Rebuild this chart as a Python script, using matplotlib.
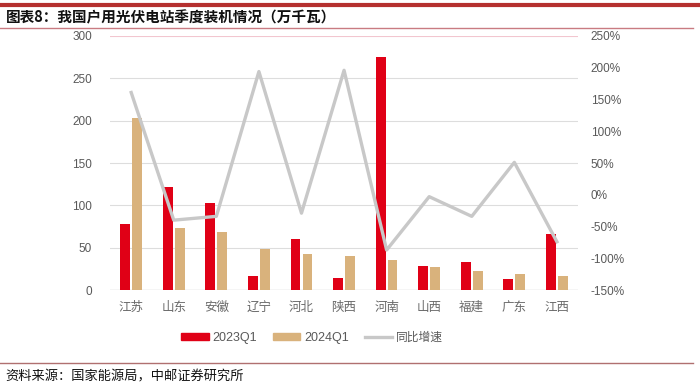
import matplotlib.pyplot as plt
import numpy as np
from matplotlib.lines import Line2D
from matplotlib.patches import Patch

plt.rcParams["font.family"] = ["Noto Sans CJK SC", "DejaVu Sans"]

provinces = ["江苏", "山东", "安徽", "辽宁", "河北", "陕西", "河南", "山西", "福建", "广东", "江西"]
q1_2023 = [78, 122, 103, 16, 60, 14, 275, 28, 33, 12.5, 66]
q1_2024 = [203, 73, 68.5, 48, 42, 40, 35, 27, 22, 19, 17]
yoy_pct = [161, -40, -34, 194, -29, 196, -87, -3, -34, 51, -74]

RED = "#E00016"
TAN = "#D9B27C"
GRAY = "#C8C8C8"
TICK = "#595959"

fig = plt.figure(figsize=(7, 3.87), dpi=100)
ax = fig.add_axes([0.157, 0.2506, 0.669, 0.6564])
ax2 = ax.twinx()

x = np.arange(len(provinces))
w = 0.23
ax.bar(x - 0.14, q1_2023, width=w, color=RED, zorder=3)
ax.bar(x + 0.14, q1_2024, width=w, color=TAN, zorder=3)
ax2.plot(x, yoy_pct, color=GRAY, linewidth=2.4, zorder=4)

ax.set_xlim(-0.5, len(provinces) - 0.5)
ax.set_ylim(0, 300)
ax.set_yticks(range(0, 301, 50))
ax2.set_ylim(-150, 250)
ax2.set_yticks(range(-150, 251, 50))
ax2.set_yticklabels([f"{v}%" for v in range(-150, 251, 50)])

for v in range(50, 300, 50):
    ax.axhline(v, color="#DDDDDD", linewidth=0.8, zorder=1)
ax.axhline(300, color="#F2C6CF", linewidth=0.8, zorder=1)
ax.axhline(0, color="#D0D0D0", linewidth=1.0, zorder=2)

for a in (ax, ax2):
    for s in a.spines.values():
        s.set_visible(False)
ax.set_xticks(x)
ax.set_xticklabels(provinces, fontsize=9, color="#6A6A6A")
ax.tick_params(axis="x", length=0, pad=8)
ax.tick_params(axis="y", length=0, pad=13, labelsize=8.5, labelcolor=TICK)
ax2.tick_params(axis="y", length=0, pad=9, labelsize=8.5, labelcolor=TICK)
for lab in ax.get_yticklabels() + ax2.get_yticklabels():
    lab.set_family(["Liberation Sans", "DejaVu Sans"])
ax2.set_zorder(ax.get_zorder() + 1)
ax2.patch.set_visible(False)

handles = [
    Patch(color=RED, label="2023Q1"),
    Patch(color=TAN, label="2024Q1"),
    Line2D([], [], color=GRAY, linewidth=2.4, label="同比增速"),
]
leg = fig.legend(handles=handles, loc="center", bbox_to_anchor=(0.446, 0.129), ncol=3,
                 frameon=False, fontsize=8.5, handlelength=2.3, handleheight=0.6,
                 columnspacing=1.4, handletextpad=0.3)
for t in leg.get_texts():
    t.set_color(TICK)
    if t.get_text().startswith("20"):
        t.set_family(["Liberation Sans", "DejaVu Sans"])
        t.set_fontsize(9)

fig.add_artist(Line2D([0, 1], [0.987, 0.987], color="#B5302F", linewidth=3))
fig.add_artist(Line2D([0, 0.99], [0.927, 0.927], color="#C97B82", linewidth=1.0))
fig.add_artist(Line2D([0, 0.99], [0.062, 0.062], color="#B07070", linewidth=1.0))

fig.text(0.008, 0.955, "图表8：我国户用光伏电站季度装机情况（万千瓦）", fontsize=10.5,
         fontweight="bold", va="center", ha="left", color="#111111")
fig.text(0.008, 0.026, "资料来源：国家能源局，中邮证券研究所", fontsize=9.5,
         va="center", ha="left", color="#111111")

fig.savefig("out.png", dpi=100)
